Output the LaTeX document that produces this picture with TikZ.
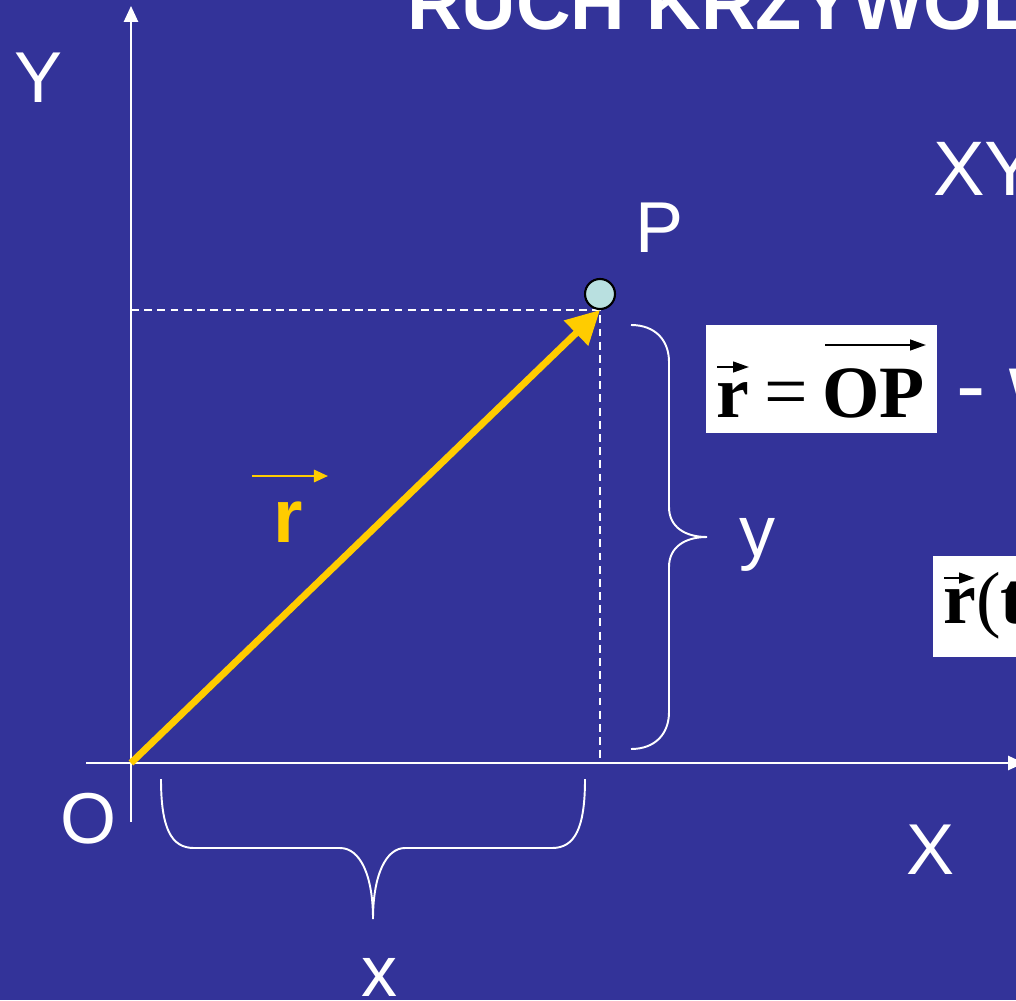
\documentclass[tikz,border=0pt]{standalone}
\usepackage{fontspec}
\setmainfont{Liberation Sans}
\newfontfamily\formfont{Liberation Serif}
\usetikzlibrary{arrows.meta}

\definecolor{slideblue}{RGB}{51,51,153}
\definecolor{vecyellow}{RGB}{255,204,0}
\definecolor{pointcyan}{RGB}{185,224,224}

\begin{document}
\begin{tikzpicture}[x=0.02cm,y=-0.02cm]

\tikzset{lbl/.style = {text=white, inner sep=0pt, font=\fontsize{41}{49}\selectfont}}
\tikzset{axis/.style = {white, line width=1.2pt, -{Triangle[length=9pt,width=8pt]}}}
\tikzset{guide/.style = {white, line width=1.1pt, dash pattern=on 4.5pt off 3pt}}
\tikzset{brace/.style = {white, line width=1.1pt}}
\tikzset{formbox/.style = {fill=white, inner sep=0pt}}
\tikzset{formtxt/.style = {text=black, inner sep=0pt, anchor=base west, font=\formfont\bfseries\fontsize{42}{50}\selectfont}}
\tikzset{formvec/.style = {black, line width=1.3pt, -{Triangle[length=9pt,width=6pt]}}}
% slide
\useasboundingbox (0,0) rectangle (1016,1000);
\clip (0,0) rectangle (1016,1000);
\fill[slideblue] (0,0) rectangle (1016,1000);
% axes
\coordinate (O) at (131,763);
\coordinate (ytop) at (131,6);
\coordinate (ybot) at (131,822);
\coordinate (xleft) at (86,763);
\coordinate (xtip) at (1024,763);
\draw[axis] (ybot) -- (ytop);
\draw[axis] (xleft) -- (xtip);
% projections of P
\coordinate (Py) at (131,310);
\coordinate (Pc) at (600,310);
\coordinate (Px) at (600,763);
\draw[guide] (Py) -- (Pc) -- (Px);
\draw[vecyellow, line width=3.9pt, -{Triangle[length=19pt,width=19pt]}] (O) -- (Pc);
\node[circle, draw=black, line width=1.2pt, fill=pointcyan, minimum size=0.6cm, inner sep=0pt] (P) at (600,294) {};
% vector label
\node[inner sep=0pt, text=vecyellow, font=\bfseries\fontsize{43}{50}\selectfont] (rlbl) at (288,522) {r};
\coordinate (rarrA) at (252,476);
\coordinate (rarrB) at (328,476);
\draw[vecyellow, line width=1.3pt, -{Triangle[length=8pt,width=7pt]}] (rarrA) -- (rarrB);
% braces
\draw[brace] (161,779) .. controls (161,828) and (171,848) .. (194,848) -- (340,848)
  .. controls (360,848) and (373,875) .. (373,919) .. controls (373,875) and (386,848) .. (405,848)
  -- (552,848) .. controls (575,848) and (585,828) .. (585,779);
\draw[brace] (631,325) .. controls (655,325) and (669,340) .. (669,362) -- (669,507)
  .. controls (669,527) and (685,537) .. (707,537) .. controls (685,537) and (669,547) .. (669,567)
  -- (669,712) .. controls (669,734) and (655,749) .. (631,749);
% labels
\node[lbl] (Ylbl) at (39,78) {Y};
\node[lbl] (Olbl) at (89,819) {O};
\node[lbl] (Xlbl) at (931,850) {X};
\node[lbl] (Plbl) at (660,228) {P};
\node[lbl] (xlbl) at (380,977) {x};
\node[lbl] (ylbl) at (757,545) {y};
% slide texts
\node[lbl, font=\bfseries\fontsize{43}{51}\selectfont, anchor=base west] (title) at (407,30) {RUCH KRZYWOL};
\node[lbl, font=\fontsize{44}{52}\selectfont, anchor=base west] (plane) at (933,195) {XY};
\node[lbl, font=\fontsize{50}{60}\selectfont, anchor=base west] (desc) at (956,415) {- w};
% formula r = OP
\node[formbox, minimum width=4.62cm, minimum height=2.16cm] (rOPbox) at (821.5,379) {};
\node[formtxt] (rtxt) at (716,417) {r};
\node[formtxt, font=\formfont\fontsize{44}{50}\selectfont] (eqtxt) at (764,417) {=};
\node[formtxt] (OPtxt) at (822,417) {OP};
\coordinate (rvA) at (717,367);
\coordinate (rvB) at (749,367);
\coordinate (OPvA) at (825,345);
\coordinate (OPvB) at (926,345);
\draw[formvec] (rvA) -- (rvB);
\draw[formvec] (OPvA) -- (OPvB);
% formula r(t)
\node[formbox, anchor=north west, minimum width=2cm, minimum height=2.02cm] (rtbox) at (933,556) {};
\node[formtxt] (rt) at (943,623) {r\mdseries(\bfseries t};
\coordinate (rtvA) at (944,578);
\coordinate (rtvB) at (975,578);
\draw[formvec] (rtvA) -- (rtvB);

\end{tikzpicture}
\end{document}
